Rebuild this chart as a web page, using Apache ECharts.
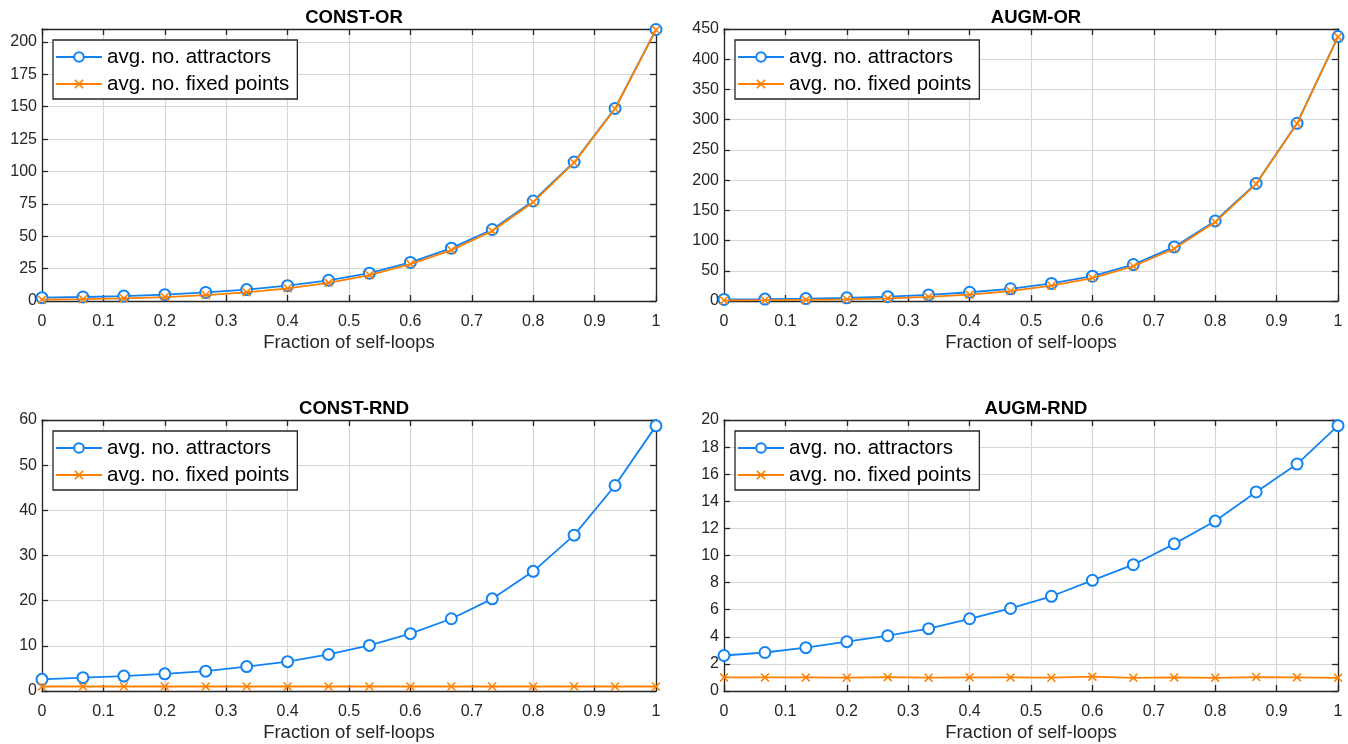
<!DOCTYPE html>
<html>
<head>
<meta charset="utf-8">
<script src="https://cdn.jsdelivr.net/npm/echarts@6/dist/echarts.min.js"></script>
<style>
html,body{margin:0;padding:0;background:#fff;}
#chart{width:1348px;height:744px;}
</style>
</head>
<body>
<div id="chart"></div>
<script>
const xValues = [0, 0.0667, 0.1333, 0.2, 0.2667, 0.3333, 0.4, 0.4667, 0.5333, 0.6, 0.6667, 0.7333, 0.8, 0.8667, 0.9333, 1];

const titles = ['CONST-OR', 'AUGM-OR', 'CONST-RND', 'AUGM-RND'];
const seriesNames = ['avg. no. attractors', 'avg. no. fixed points'];
const xAxisName = 'Fraction of self-loops';

const constOrAttractors = [2.6, 3.1, 3.8, 4.9, 6.6, 8.8, 11.8, 16.0, 21.5, 29.8, 40.8, 55.2, 77.2, 107.3, 148.7, 209.6];
const constOrFixed      = [1.0, 1.4, 2.0, 3.0, 4.6, 6.7, 9.8, 14.0, 20.0, 28.5, 39.3, 54.0, 76.3, 106.8, 148.4, 209.3];

const augmOrAttractors = [2.6, 3.2, 4.0, 5.3, 7.2, 10.0, 14.5, 20.2, 29.0, 41.0, 60.3, 89.5, 132.5, 194.5, 294.0, 437.5];
const augmOrFixed      = [1.0, 1.3, 1.8, 2.7, 4.3, 6.8, 10.5, 16.5, 25.3, 38.0, 57.5, 86.5, 130.5, 193.5, 293.5, 437.0];

const constRndAttractors = [2.58, 2.95, 3.3, 3.8, 4.4, 5.4, 6.5, 8.1, 10.1, 12.7, 16.0, 20.4, 26.5, 34.5, 45.5, 58.7];
const constRndFixed      = [1.0, 1.0, 1.0, 1.0, 1.0, 1.0, 1.0, 1.0, 1.0, 1.0, 1.0, 1.0, 1.0, 1.0, 1.0, 1.0];

const augmRndAttractors = [2.62, 2.84, 3.2, 3.64, 4.08, 4.6, 5.33, 6.09, 6.99, 8.17, 9.32, 10.86, 12.54, 14.69, 16.75, 19.58];
const augmRndFixed      = [1.0, 1.0, 1.0, 0.98, 1.02, 0.98, 1.01, 1.0, 0.98, 1.06, 0.97, 1.0, 0.97, 1.03, 1.01, 0.97];

const yMax = [210, 450, 60, 20];
const yInterval = [25, 50, 10, 2];
const xTicks = { min: 0, max: 1, interval: 0.1 };

const panelData = [
  [constOrAttractors, constOrFixed],
  [augmOrAttractors, augmOrFixed],
  [constRndAttractors, constRndFixed],
  [augmRndAttractors, augmRndFixed]
];

const grids = [
  { left: 42, top: 29, width: 614, height: 272 },
  { left: 724, top: 29, width: 614, height: 272 },
  { left: 42, top: 420, width: 614, height: 271 },
  { left: 724, top: 420, width: 614, height: 271 }
];

const FONT = '"Liberation Sans", Arial, Helvetica, sans-serif';
const AX = '#262626';
const BLUE = '#1283f2';
const ORANGE = '#ff8000';
const XPATH = 'path://M0,1.2L1.2,0L5,3.8L8.8,0L10,1.2L6.2,5L10,8.8L8.8,10L5,6.2L1.2,10L0,8.8L3.8,5Z';

const chart = echarts.init(document.getElementById('chart'), null, { renderer: 'canvas' });

const xAxes = [], yAxes = [], series = [], titleArr = [], legends = [];

grids.forEach((g, i) => {
  xAxes.push({
    type: 'value', gridIndex: i, min: xTicks.min, max: xTicks.max, interval: xTicks.interval,
    position: 'bottom',
    name: xAxisName, nameLocation: 'middle', nameGap: 32,
    nameTextStyle: { fontFamily: FONT, fontSize: 18.5, color: '#262626' },
    axisLine: { show: true, onZero: false, lineStyle: { color: AX, width: 1.3 } },
    axisTick: { show: true, inside: true, length: 6, lineStyle: { color: AX, width: 1.3 } },
    axisLabel: { fontFamily: FONT, fontSize: 16, color: '#262626', margin: 13 },
    splitLine: { show: true, lineStyle: { color: '#d6d6d6', width: 1.2 } }
  });
  xAxes.push({
    type: 'value', gridIndex: i, min: xTicks.min, max: xTicks.max, interval: xTicks.interval,
    position: 'top',
    axisLine: { show: true, onZero: false, lineStyle: { color: AX, width: 1.3 } },
    axisTick: { show: true, inside: true, length: 6, lineStyle: { color: AX, width: 1.3 } },
    axisLabel: { show: false },
    splitLine: { show: false }
  });
  const iv = yInterval[i];
  yAxes.push({
    type: 'value', gridIndex: i, min: 0, max: yMax[i], interval: iv,
    position: 'left',
    axisLine: { show: true, onZero: false, lineStyle: { color: AX, width: 1.3 } },
    axisTick: { show: true, inside: true, length: 6, lineStyle: { color: AX, width: 1.3 } },
    axisLabel: {
      fontFamily: FONT, fontSize: 16, color: '#262626', margin: 5,
      formatter: v => (Math.abs(v / iv - Math.round(v / iv)) < 1e-6 ? String(v) : '')
    },
    splitLine: { show: true, lineStyle: { color: '#d6d6d6', width: 1.2 } }
  });
  yAxes.push({
    type: 'value', gridIndex: i, min: 0, max: yMax[i], interval: iv,
    position: 'right',
    axisLine: { show: true, onZero: false, lineStyle: { color: AX, width: 1.3 } },
    axisTick: { show: true, inside: true, length: 6, lineStyle: { color: AX, width: 1.3 } },
    axisLabel: { show: false },
    splitLine: { show: false }
  });

  titleArr.push({
    text: titles[i],
    left: g.left + g.width / 2, top: g.top - 26, textAlign: 'center',
    textStyle: { fontFamily: FONT, fontSize: 18.5, fontWeight: 'bold', color: '#000' }
  });

  const [att, fix] = panelData[i];
  series.push({
    name: seriesNames[0], type: 'line', xAxisIndex: 2 * i, yAxisIndex: 2 * i,
    data: xValues.map((x, k) => [x, att[k]]),
    symbol: 'emptyCircle', symbolSize: 11, showAllSymbol: true,
    lineStyle: { color: BLUE, width: 1.8 },
    itemStyle: { color: BLUE, borderColor: BLUE, borderWidth: 1.8 },
    emphasis: { disabled: true }, animation: false, z: 2
  });
  series.push({
    name: seriesNames[1], type: 'line', xAxisIndex: 2 * i, yAxisIndex: 2 * i,
    data: xValues.map((x, k) => [x, fix[k]]),
    symbol: XPATH, symbolSize: 9, showAllSymbol: true,
    lineStyle: { color: ORANGE, width: 1.8 },
    itemStyle: { color: ORANGE },
    emphasis: { disabled: true }, animation: false, z: 3
  });

  legends.push({
    left: g.left + 11, top: g.top + 11,
    orient: 'vertical',
    data: seriesNames,
    itemWidth: 46, itemHeight: 12, itemGap: 3,
    padding: [5, 8, 3, 2],
    backgroundColor: '#fff',
    borderColor: '#262626', borderWidth: 1.3, borderRadius: 0,
    textStyle: { fontFamily: FONT, fontSize: 20.5, lineHeight: 24, color: '#000' },
    selectedMode: false
  });
});

chart.setOption({
  backgroundColor: '#fff',
  animation: false,
  title: titleArr,
  legend: legends,
  grid: grids.map(g => Object.assign({ containLabel: false }, g)),
  xAxis: xAxes,
  yAxis: yAxes,
  series: series
});
</script>
</body>
</html>
